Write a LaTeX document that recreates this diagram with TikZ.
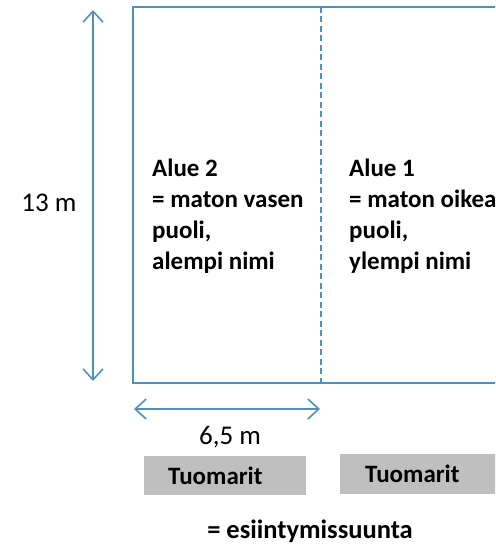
\documentclass[tikz,border=0pt]{standalone}
\usepackage{fontspec}
\setmainfont{Carlito}
\usetikzlibrary{arrows.meta}
\definecolor{matblue}{RGB}{78,144,190}
\definecolor{boxgray}{RGB}{191,191,191}
\tikzset{
  matline/.style={draw=matblue, line width=1.8pt},
  dimarrow/.style={matblue, line width=1.6pt, {Straight Barb[length=11pt,width=20pt,line width=1.6pt]}-{Straight Barb[length=11pt,width=20pt,line width=1.6pt]}},
  areatext/.style={font=\fontsize{25}{31}\selectfont\bfseries, align=left, anchor=north west, inner sep=0pt},
  dimtext/.style={font=\fontsize{27}{30}\selectfont, inner sep=0pt},
  judgetext/.style={font=\fontsize{25}{30}\selectfont\bfseries, anchor=base west, inner sep=0pt},
}
\begin{document}
\begin{tikzpicture}[x=1pt,y=-1pt]
\useasboundingbox (0,0) rectangle (495,545);
\clip (0,0) rectangle (495,545);
% mat
\draw[matline] (560,7) -- (133,7) -- (133,383) -- (560,383);
\coordinate (dtop) at (321,7);
\coordinate (dbot) at (321,383);
\draw[matblue, line width=1.4pt, dash pattern=on 6pt off 3.5pt] (dtop) -- (dbot);
% dimension arrows
\coordinate (vtop) at (93,10);
\coordinate (vbot) at (93,381);
\draw[dimarrow] (vbot) -- (vtop);
\coordinate (hl) at (134,409);
\coordinate (hr) at (320,409);
\draw[dimarrow] (hl) -- (hr);
\node[dimtext] (h13) at (49,203) {13 m};
\node[dimtext] (w65) at (230,437) {6,5 m};
% area texts
\node[areatext] (a2) at (152,159) {Alue 2\\= maton vasen\\puoli,\\alempi nimi};
\node[areatext] (a1) at (349,159) {Alue 1\\= maton oikea\\puoli,\\ylempi nimi};
% judges
\path[fill=boxgray] (144,456) rectangle (306,495);
\node[judgetext] (j1) at (168,484) {Tuomarit};
\path[fill=boxgray] (340,454) rectangle (510,494);
\node[judgetext] (j2) at (365,482) {Tuomarit};
% legend
\node[font=\fontsize{26.5}{30}\selectfont\bfseries, inner sep=0pt] (leg) at (310,531) {= esiintymissuunta};
\end{tikzpicture}
\end{document}
